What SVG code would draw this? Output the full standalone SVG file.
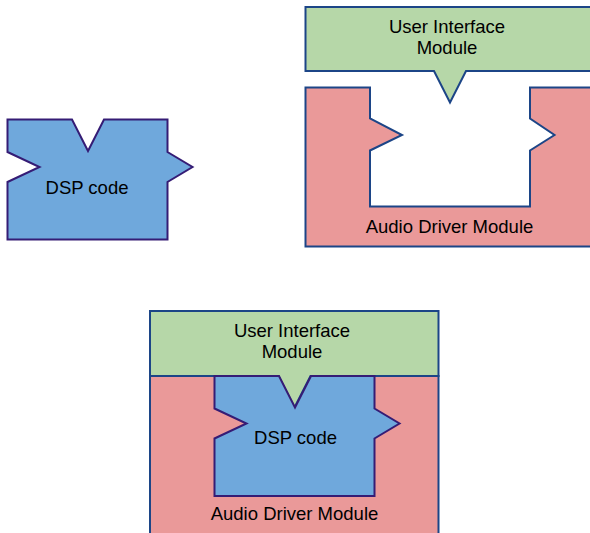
<svg xmlns="http://www.w3.org/2000/svg" width="590" height="533" viewBox="0 0 590 533">
<style>
.ui{fill:#b6d7a8;stroke:#1c4587;stroke-width:2}
.ad{fill:#ea9999;stroke:#1c4587;stroke-width:2}
.dsp{fill:#6fa8dc;stroke:#351c75;stroke-width:2;stroke-linejoin:miter}
text{font-family:"Liberation Sans",Arial,sans-serif;font-size:18.5px;fill:#000;text-anchor:middle}
</style>
<defs>
<path id="dspShape" d="M0,0 H64.5 L80.5,31.5 L96.5,0 H160 V32.5 L185,47.5 L160,62.5 V120 H0 V62.5 L32,47.5 L0,32.5 Z"/>
</defs>
<rect width="590" height="533" fill="#fff"/>

<g id="dsp-standalone">
<use href="#dspShape" class="dsp" transform="translate(7.5,119.5)"/>
<text x="87" y="194">DSP code</text>
</g>

<g id="ui-top">
<path class="ui" d="M305.5,7 H596 V71 H466 L450,102.5 L434,71 H305.5 Z"/>
<text x="447" y="32.5">User Interface</text>
<text x="447" y="54">Module</text>
</g>

<g id="audio-top">
<path class="ad" d="M305.5,87.5 H370 V118.5 L402,135 L370,150.5 V206.5 H530 V150.5 L554.5,135 L530,118.5 V87.5 H596 V246.5 H305.5 Z"/>
<text x="449.5" y="232.5">Audio Driver Module</text>
</g>

<g id="audio-bottom">
<rect class="ad" x="150" y="376" width="288.5" height="170"/>
<text x="294.5" y="520">Audio Driver Module</text>
</g>

<g id="ui-bottom">
<path class="ui" d="M150,311 H438.5 V376 H310.5 L294.5,407.5 L278.5,376 H150 Z"/>
<text x="292" y="336.5">User Interface</text>
<text x="292" y="358">Module</text>
</g>

<g id="dsp-bottom">
<use href="#dspShape" class="dsp" transform="translate(214.5,376)"/>
<text x="295.5" y="443.5">DSP code</text>
</g>

<g id="connectors"></g>
</svg>
